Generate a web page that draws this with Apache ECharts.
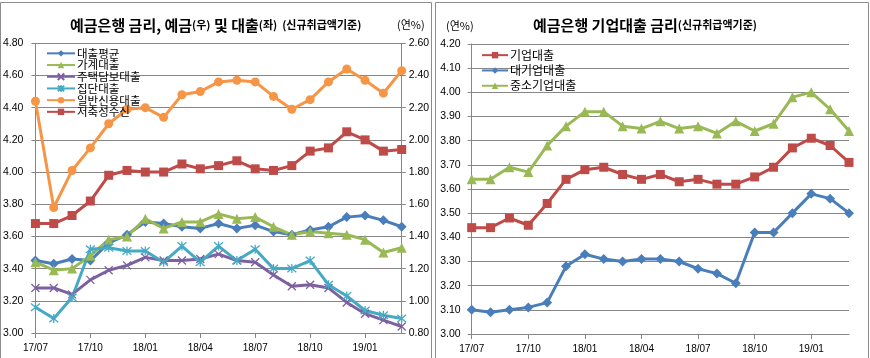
<!DOCTYPE html>
<html><head><meta charset="utf-8">
<script src="https://cdn.jsdelivr.net/npm/echarts@6/dist/echarts.min.js"></script>
<style>html,body{margin:0;padding:0;background:#fff}#c{width:870px;height:358px}</style>
</head><body><div id="c"></div>
<script>
const months = ['17/07','17/08','17/09','17/10','17/11','17/12','18/01','18/02','18/03','18/04','18/05','18/06','18/07','18/08','18/09','18/10','18/11','18/12','19/01','19/02','19/03'];
// left chart (loans: left axis, deposits/credit: right axis)
const loanAvg   = [3.45,3.43,3.46,3.45,3.56,3.61,3.69,3.68,3.66,3.65,3.68,3.65,3.67,3.63,3.61,3.64,3.66,3.72,3.73,3.70,3.66];
const household = [3.44,3.39,3.40,3.48,3.58,3.60,3.71,3.65,3.69,3.69,3.74,3.71,3.72,3.66,3.61,3.63,3.62,3.61,3.58,3.50,3.53];
const mortgage  = [3.28,3.28,3.24,3.33,3.39,3.42,3.47,3.45,3.45,3.46,3.49,3.45,3.44,3.36,3.29,3.30,3.28,3.19,3.12,3.08,3.04];
const groupLoan = [3.16,3.09,3.22,3.52,3.53,3.51,3.51,3.44,3.54,3.44,3.54,3.45,3.52,3.40,3.40,3.45,3.30,3.23,3.14,3.11,3.09];
const credit    = [2.24,1.58,1.81,1.95,2.10,2.19,2.20,2.14,2.28,2.30,2.36,2.37,2.36,2.27,2.19,2.25,2.36,2.44,2.37,2.29,2.43];
const deposit   = [1.48,1.48,1.53,1.62,1.78,1.81,1.80,1.80,1.85,1.82,1.84,1.87,1.82,1.81,1.84,1.93,1.95,2.05,2.00,1.93,1.94];
// right chart
const corp  = [3.44,3.44,3.48,3.45,3.54,3.64,3.68,3.69,3.66,3.64,3.66,3.63,3.64,3.62,3.62,3.65,3.69,3.77,3.81,3.78,3.71];
const large = [3.10,3.09,3.10,3.11,3.13,3.28,3.33,3.31,3.30,3.31,3.31,3.30,3.27,3.25,3.21,3.42,3.42,3.50,3.58,3.56,3.50];
const sme   = [3.64,3.64,3.69,3.67,3.78,3.86,3.92,3.92,3.86,3.85,3.88,3.85,3.86,3.83,3.88,3.84,3.87,3.98,4.00,3.93,3.84];

const namesLeft = ['대출평균','가계대출','주택담보대출','집단대출','일반신용대출','저축성수신'];
const namesRight = ['기업대출','대기업대출','중소기업대출'];

const C = {blue:'#4A7EBB', red:'#BE4B48', green:'#98B954', purple:'#7D60A0', cyan:'#46AAC5', orange:'#F69546'};
const KR = '"Noto Sans CJK KR", sans-serif';
const NUM = '"Liberation Sans", Arial, sans-serif';
const AX = '#868686';

function line(name, data, color, symbol, size, xi, yi) {
  const stroke = symbol.startsWith('path://');
  return {
    type:'line', name, data, xAxisIndex:xi, yAxisIndex:yi,
    symbol, symbolSize:size, showSymbol:true,
    lineStyle:{color, width:3},
    itemStyle: stroke ? {color:color, borderColor:color, borderWidth:1.3} : {color:color, borderWidth:0},
    emphasis:{disabled:true}
  };
}
const X_SYM = 'path://M0,0L10,10M10,0L0,10';
const STAR_SYM = 'path://M5,-1L5,11M0,0L10,10M10,0L0,10';

function xAx(gi) {
  return {type:'category', gridIndex:gi, data:months, boundaryGap:false,
    axisLine:{lineStyle:{color:AX}},
    axisTick:{interval:2, length:5, lineStyle:{color:AX}},
    axisLabel:{interval:2, fontSize:10, color:'#000', fontFamily:NUM, margin:10},
    splitLine:{show:false}};
}
function yAx(gi, min, max, interval, pos, margin, grid) {
  return {type:'value', gridIndex:gi, min, max, interval, position:pos,
    axisLine:{show:true, lineStyle:{color:AX}},
    axisTick:{show:true, length:4, lineStyle:{color:AX}},
    axisLabel:{fontSize:10.5, color:'#000', fontFamily:NUM, margin, formatter:v=>v.toFixed(2)},
    splitLine:{show:grid, lineStyle:{color:AX, width:1}}};
}

const option = {
  animation:false,
  backgroundColor:'#fff',
  graphic:[
    {type:'rect', shape:{x:0.5, y:2.5, width:431, height:360}, style:{fill:'none', stroke:'#8c8c8c', lineWidth:1}},
    {type:'rect', shape:{x:435.5, y:2.5, width:433, height:360}, style:{fill:'none', stroke:'#8c8c8c', lineWidth:1}}
  ],
  title:[
    {left:70, top:15, padding:0, text:'{b|예금은행 금리, 예금}{s|(우)}{b| 및 대출}{s|(좌)} {s|(신규취급액기준)}',
      textStyle:{rich:{b:{fontSize:15, fontWeight:'bold', fontFamily:KR, color:'#000', lineHeight:20},
                       s:{fontSize:11, fontFamily:KR, color:'#000', lineHeight:20}}}},
    {left:397, top:15, padding:0, text:'(연%)', textStyle:{fontSize:11, fontWeight:'normal', fontFamily:KR, color:'#000', lineHeight:20}},
    {left:533, top:15, padding:0, text:'{b|예금은행 기업대출 금리}{s|(신규취급액기준)}',
      textStyle:{rich:{b:{fontSize:15, fontWeight:'bold', fontFamily:KR, color:'#000', lineHeight:20},
                       s:{fontSize:11, fontFamily:KR, color:'#000', lineHeight:20}}}},
    {left:446, top:16, padding:0, text:'(연%)', textStyle:{fontSize:11, fontWeight:'normal', fontFamily:KR, color:'#000', lineHeight:20}}
  ],
  legend:[
    {data:namesLeft, orient:'vertical', left:46, top:47.5, padding:0, itemWidth:28, itemHeight:8, itemGap:0,
     textStyle:{fontSize:11.5, lineHeight:11.7, color:'#000', fontFamily:KR, padding:[0,0,0,-3]}},
    {data:namesRight, orient:'vertical', left:481, top:47.5, padding:0, itemWidth:26, itemHeight:8, itemGap:0,
     textStyle:{fontSize:12, lineHeight:15.3, color:'#000', fontFamily:KR, padding:[0,0,0,-3]}}
  ],
  grid:[
    {left:35, top:43.3, width:366.7, height:289.7},
    {left:471.7, top:44, width:377.3, height:290}
  ],
  xAxis:[xAx(0), xAx(1)],
  yAxis:[
    yAx(0, 3.0, 4.8, 0.2, 'left', 12, true),
    yAx(0, 0.8, 2.6, 0.2, 'right', 7, false),
    yAx(1, 3.0, 4.2, 0.1, 'left', 11, true)
  ],
  series:[
    line(namesLeft[0], loanAvg, C.blue, 'diamond', 10, 0, 0),
    line(namesLeft[1], household, C.green, 'triangle', 10, 0, 0),
    line(namesLeft[2], mortgage, C.purple, X_SYM, 8, 0, 0),
    line(namesLeft[3], groupLoan, C.cyan, STAR_SYM, 9, 0, 0),
    line(namesLeft[4], credit, C.orange, 'circle', 9, 0, 1),
    line(namesLeft[5], deposit, C.red, 'rect', 9, 0, 1),
    line(namesRight[0], corp, C.red, 'rect', 9, 1, 2),
    line(namesRight[1], large, C.blue, 'diamond', 10, 1, 2),
    line(namesRight[2], sme, C.green, 'triangle', 10, 1, 2)
  ]
};
const chart = echarts.init(document.getElementById('c'), null, {renderer:'canvas'});
chart.setOption(option);
</script></body></html>
